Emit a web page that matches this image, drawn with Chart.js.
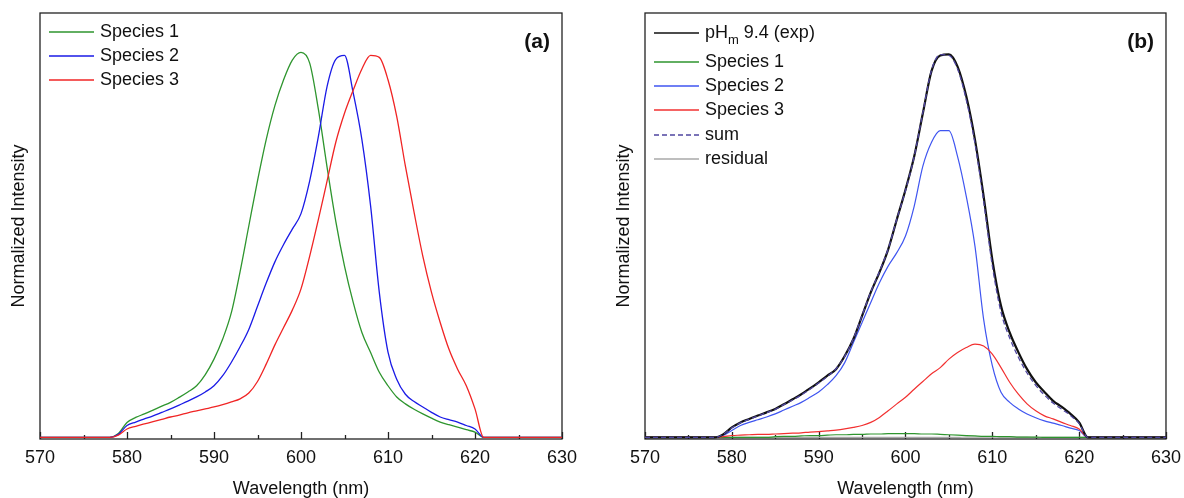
<!DOCTYPE html>
<html>
  <head>
    <meta charset="UTF-8" />
    <title>Normalized emission spectra</title>
    <style>
      body {
        margin: 0;
        background: #fff;
        width: 1184px;
        height: 498px;
        overflow: hidden;
        position: relative;
      }
      canvas {
        position: absolute;
        top: 0;
      }
      #chartA {
        left: 0;
      }
      #chartB {
        left: 605px;
      }
    </style>
  </head>

  <body>
    <canvas id="chartA" width="592" height="498"></canvas>
    <canvas id="chartB" width="584" height="498"></canvas>

    <script src="https://cdn.jsdelivr.net/npm/chart.js"></script>

    <script>
      // wavelength grid (nm) shared by every curve
      const wavelengths = [
        570, 578, 579, 580, 581, 582, 583, 584, 585, 586, 587, 588, 589, 590,
        591, 592, 593, 594, 595, 596, 597, 598, 599, 600, 601, 602, 603, 604,
        605, 606, 607, 608, 609, 610, 611, 612, 613, 614, 615, 616, 617, 618,
        619, 620, 621, 622, 630,
      ];

      // panel (a): pure species spectra
      const species1A = [
        0, 0, 0.01, 0.039, 0.052, 0.061, 0.071, 0.081, 0.091, 0.104, 0.118,
        0.134, 0.163, 0.203, 0.255, 0.324, 0.43, 0.548, 0.665, 0.772, 0.86,
        0.927, 0.978, 0.998, 0.97, 0.85, 0.7, 0.56, 0.444, 0.35, 0.272, 0.22,
        0.169, 0.134, 0.105, 0.087, 0.073, 0.061, 0.05, 0.04, 0.033, 0.027,
        0.02, 0.014, 0, 0, 0,
      ];
      const species2A = [
        0, 0, 0.008, 0.031, 0.04, 0.048, 0.056, 0.065, 0.074, 0.084, 0.094,
        0.105, 0.118, 0.134, 0.16, 0.195, 0.235, 0.28, 0.34, 0.4, 0.455, 0.5,
        0.54, 0.58, 0.665, 0.78, 0.91, 0.98, 0.99, 0.893, 0.772, 0.6, 0.376,
        0.221, 0.151, 0.112, 0.093, 0.079, 0.065, 0.053, 0.046, 0.04, 0.031,
        0.022, 0, 0, 0,
      ];
      const species3A = [
        0, 0, 0.006, 0.022, 0.029, 0.035, 0.041, 0.047, 0.053, 0.058, 0.064,
        0.069, 0.074, 0.079, 0.085, 0.092, 0.1, 0.115, 0.145, 0.19, 0.24,
        0.285, 0.33, 0.385, 0.47, 0.565, 0.665, 0.765, 0.84, 0.9, 0.955, 0.99,
        0.985, 0.927, 0.832, 0.703, 0.583, 0.47, 0.376, 0.298, 0.229, 0.177,
        0.134, 0.074, 0, 0, 0,
      ];

      // panel (b): pHm 9.4 spectrum and its fit
      const expB = [
        0, 0, 0.008, 0.026, 0.039, 0.048, 0.057, 0.065, 0.074, 0.086, 0.099,
        0.112, 0.127, 0.143, 0.16, 0.177, 0.211, 0.255, 0.315, 0.376, 0.428,
        0.487, 0.565, 0.642, 0.728, 0.84, 0.95, 0.99, 0.993, 0.961, 0.884,
        0.772, 0.625, 0.461, 0.341, 0.272, 0.221, 0.177, 0.143, 0.118, 0.095,
        0.079, 0.061, 0.039, 0, 0, 0,
      ];
      const species1B = [
        0, 0, 0, 0, 0, 0, 0, 0, 0.002, 0.003, 0.003, 0.004, 0.005, 0.005,
        0.006, 0.007, 0.007, 0.008, 0.008, 0.009, 0.009, 0.01, 0.01, 0.01,
        0.01, 0.009, 0.009, 0.008, 0.007, 0.006, 0.005, 0.004, 0.003, 0.003,
        0.002, 0.002, 0.001, 0.001, 0.001, 0, 0, 0, 0, 0, 0, 0, 0,
      ];
      const species2B = [
        0, 0, 0.005, 0.018, 0.031, 0.039, 0.046, 0.053, 0.061, 0.071, 0.081,
        0.091, 0.104, 0.118, 0.137, 0.16, 0.194, 0.246, 0.298, 0.35, 0.401,
        0.444, 0.479, 0.522, 0.599, 0.703, 0.765, 0.795, 0.795, 0.728, 0.625,
        0.496, 0.306, 0.186, 0.117, 0.091, 0.074, 0.061, 0.051, 0.043, 0.037,
        0.031, 0.024, 0.018, 0, 0, 0,
      ];
      const species3B = [
        0, 0, 0.002, 0.005, 0.006, 0.007, 0.008, 0.008, 0.009, 0.01, 0.011,
        0.012, 0.014, 0.015, 0.017, 0.019, 0.022, 0.026, 0.031, 0.039, 0.052,
        0.069, 0.087, 0.104, 0.125, 0.145, 0.165, 0.181, 0.203, 0.22, 0.233,
        0.242, 0.237, 0.216, 0.181, 0.143, 0.112, 0.087, 0.069, 0.056, 0.048,
        0.039, 0.031, 0.022, 0, 0, 0,
      ];
      const sumB = [
        0, 0, 0.008, 0.025, 0.038, 0.047, 0.056, 0.064, 0.073, 0.085, 0.097,
        0.11, 0.125, 0.141, 0.158, 0.178, 0.21, 0.256, 0.316, 0.377, 0.43,
        0.488, 0.566, 0.64, 0.728, 0.842, 0.952, 0.992, 0.99, 0.955, 0.875,
        0.762, 0.612, 0.445, 0.325, 0.258, 0.208, 0.167, 0.135, 0.11, 0.089,
        0.073, 0.057, 0.036, 0, 0, 0,
      ];
      const residualB = [
        0, 0, 0, 0, 0, 0, 0, 0, 0, 0, 0, 0, 0, 0, 0, 0, 0, 0, 0, 0, 0, 0, 0,
        0, 0, 0, 0, 0, 0, 0, 0.001, 0.001, 0.001, 0.001, 0.001, 0.001, 0.001,
        0.001, 0, 0, 0, 0, 0, 0, 0, 0, 0,
      ];

      const FONT = "'Liberation Sans', Arial, sans-serif";
      const INK = "#111";

      const pts = (vals) => wavelengths.map((x, i) => ({ x: x, y: vals[i] }));

      function makeScales() {
        return {
          x: {
            type: "linear",
            min: 570,
            max: 630,
            afterFit: (s) => {
              s.height = 59;
            },
            grid: { display: false, drawTicks: false },
            border: { display: false },
            ticks: {
              stepSize: 10,
              padding: 8,
              maxRotation: 0,
              autoSkip: false,
              color: INK,
              font: { family: FONT, size: 18 },
            },
            title: {
              display: true,
              text: "Wavelength (nm)",
              color: INK,
              padding: { top: 0, bottom: -2 },
              font: { family: FONT, size: 18 },
            },
          },
          y: {
            min: -0.004,
            max: 1.1,
            afterFit: (s) => {
              s.width = 40;
            },
            grid: { display: false, drawTicks: false },
            border: { display: false },
            ticks: { display: false },
            title: {
              display: true,
              text: "Normalized Intensity",
              color: INK,
              padding: { top: 8, bottom: 0 },
              font: { family: FONT, size: 18 },
            },
          },
        };
      }

      // box around the plot and inward tick marks
      const frameTicks = {
        id: "frameTicks",
        beforeDatasetsDraw(chart) {
          const { ctx, chartArea: a, scales } = chart;
          const x = scales.x;
          ctx.save();
          ctx.strokeStyle = "#222";
          ctx.lineWidth = 1.3;
          ctx.strokeRect(a.left, a.top, a.right - a.left, a.bottom - a.top);
          for (let v = x.min; v <= x.max; v += 5) {
            const px = Math.round(x.getPixelForValue(v)) + 0.5;
            const len = v % 10 === 0 ? 7 : 4;
            ctx.beginPath();
            ctx.moveTo(px, a.bottom);
            ctx.lineTo(px, a.bottom - len);
            ctx.stroke();
          }
          ctx.restore();
        },
      };

      // legend in the top-left corner and the panel letter
      const cornerLegend = {
        id: "cornerLegend",
        afterDraw(chart, args, opts) {
          const { ctx, chartArea: a } = chart;
          ctx.save();
          ctx.textBaseline = "middle";
          chart.data.datasets.forEach((ds, i) => {
            const y = a.top + opts.rows[i];
            ctx.strokeStyle = ds.borderColor;
            ctx.lineWidth = ds.legendWidth || 1.3;
            ctx.setLineDash(ds.borderDash || []);
            ctx.beginPath();
            ctx.moveTo(a.left + 9, y);
            ctx.lineTo(a.left + 54, y);
            ctx.stroke();
            ctx.setLineDash([]);
            ctx.fillStyle = INK;
            ctx.font = "18px " + FONT;
            let tx = a.left + 60;
            const m = ds.label.match(/^(.*)_(\w)(.*)$/);
            if (m) {
              ctx.fillText(m[1], tx, y);
              tx += ctx.measureText(m[1]).width;
              ctx.font = "13px " + FONT;
              ctx.fillText(m[2], tx, y + 7);
              tx += ctx.measureText(m[2]).width;
              ctx.font = "18px " + FONT;
              ctx.fillText(m[3], tx, y);
            } else {
              ctx.fillText(ds.label, tx, y);
            }
          });
          ctx.font = "bold 21px " + FONT;
          ctx.textAlign = "right";
          ctx.fillText(opts.letter, a.right - 12, a.top + 29);
          ctx.restore();
        },
      };

      Chart.defaults.font.family = FONT;

      const lineDefaults = {
        pointRadius: 0,
        fill: false,
        cubicInterpolationMode: "monotone",
      };

      new Chart(document.getElementById("chartA"), {
        type: "line",
        data: {
          datasets: [
            { ...lineDefaults, label: "Species 1", data: pts(species1A), borderColor: "#2e952e", borderWidth: 1.3, order: 2 },
            { ...lineDefaults, label: "Species 2", data: pts(species2A), borderColor: "#1a1ae6", borderWidth: 1.3, order: 1 },
            { ...lineDefaults, label: "Species 3", data: pts(species3A), borderColor: "#f02424", borderWidth: 1.3, order: 0 },
          ],
        },
        options: {
          responsive: false,
          animation: false,
          devicePixelRatio: 1,
          layout: { padding: { top: 13, right: 30, bottom: 0, left: 0 } },
          scales: makeScales(),
          plugins: {
            legend: { display: false },
            tooltip: { enabled: false },
            cornerLegend: { rows: [19, 43, 67], letter: "(a)" },
          },
        },
        plugins: [frameTicks, cornerLegend],
      });

      new Chart(document.getElementById("chartB"), {
        type: "line",
        data: {
          datasets: [
            { ...lineDefaults, label: "pH_m 9.4 (exp)", data: pts(expB), borderColor: "#111111", borderWidth: 2.2, legendWidth: 1.6, order: 1 },
            { ...lineDefaults, label: "Species 1", data: pts(species1B), borderColor: "#2e952e", borderWidth: 1.2, order: 3 },
            { ...lineDefaults, label: "Species 2", data: pts(species2B), borderColor: "#3f55f0", borderWidth: 1.2, order: 3 },
            { ...lineDefaults, label: "Species 3", data: pts(species3B), borderColor: "#f23030", borderWidth: 1.2, order: 2 },
            { ...lineDefaults, label: "sum", data: pts(sumB), borderColor: "#4f46a0", borderWidth: 1.3, borderDash: [5, 3], order: 0 },
            { ...lineDefaults, label: "residual", data: pts(residualB), borderColor: "#a8a8a8", borderWidth: 1.2, order: 4 },
          ],
        },
        options: {
          responsive: false,
          animation: false,
          devicePixelRatio: 1,
          layout: { padding: { top: 13, right: 18, bottom: 0, left: 0 } },
          scales: makeScales(),
          plugins: {
            legend: { display: false },
            tooltip: { enabled: false },
            cornerLegend: { rows: [20, 49, 73, 97, 122, 146], letter: "(b)" },
          },
        },
        plugins: [frameTicks, cornerLegend],
      });
    </script>
  </body>
</html>
